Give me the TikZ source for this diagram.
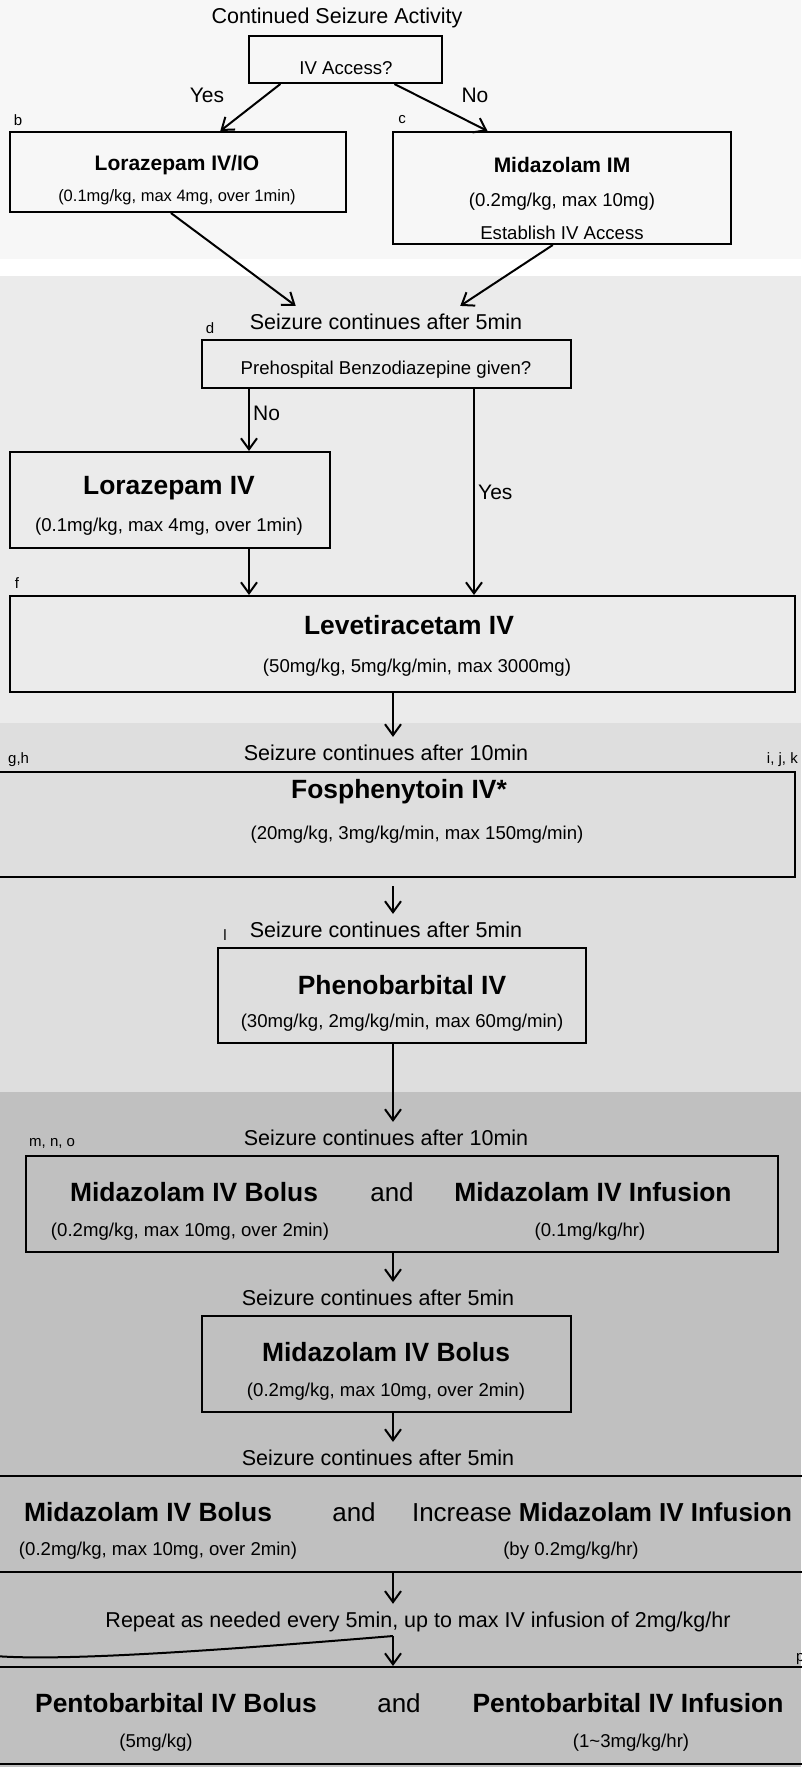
\documentclass[tikz,border=0pt]{standalone}
\usepackage{fontspec}
\setmainfont{Liberation Sans}
\usetikzlibrary{arrows.meta,calc}
\definecolor{bandA}{HTML}{F7F7F7}
\definecolor{bandB}{HTML}{EBEBEB}
\definecolor{bandC}{HTML}{DEDEDE}
\definecolor{bandD}{HTML}{C0C0C0}
\begin{document}
\begin{tikzpicture}[x=1pt,y=-1pt,
  box/.style={draw, line width=2pt, inner sep=0pt},
  arr/.style={line width=2pt, -{Straight Barb[length=11pt,width=16pt]}},
  ttl/.style={font=\fontsize{26.4}{30}\selectfont\bfseries, inner sep=0pt},
  ttls/.style={font=\fontsize{21}{25}\selectfont\bfseries, inner sep=0pt},
  andtxt/.style={font=\fontsize{26}{30}\selectfont, inner sep=0pt},
  mid/.style={font=\fontsize{21.5}{25}\selectfont, inner sep=8pt},
  lbl/.style={font=\fontsize{21}{25}\selectfont, inner sep=0pt},
  det/.style={font=\fontsize{18.6}{22}\selectfont, inner sep=0pt},
  dets/.style={font=\fontsize{16.5}{20}\selectfont, inner sep=0pt},
  fn/.style={font=\fontsize{15}{18}\selectfont, inner sep=0pt},
]
\useasboundingbox (0,0) rectangle (801,1767);
% background bands
\fill[bandA] (0,0) rectangle (801,259);
\fill[white] (0,259) rectangle (801,276);
\fill[bandB] (0,276) rectangle (801,723);
\fill[bandC] (0,723) rectangle (801,1092);
\fill[bandD] (0,1092) rectangle (801,1767);

\coordinate (spine) at (393,0);

% ---------- top section
\node[mid] (t0) at (337,18) {Continued Seizure Activity};
\node[box, minimum width=193pt, minimum height=47pt] (iva) at (345.5,59.5) {};
\node[det] (ivat) at (346,68) {IV Access?};
\node[lbl] (yes1) at (207,95) {Yes};
\node[lbl] (no1) at (475,95) {No};
\node[fn] (fb) at (18,120) {b};
\node[fn] (fc) at (402,120) {c};

\node[box, minimum width=336pt, minimum height=80pt] (lorio) at (178,172) {};
\node[ttls] (lorioa) at (177,165) {Lorazepam IV/IO};
\node[dets] (loriob) at (177,197) {(0.1mg/kg, max 4mg, over 1min)};

\node[box, minimum width=338pt, minimum height=112pt] (midim) at (562,188) {};
\node[ttls] (midima) at (562,165) {Midazolam IM};
\node[det] (midimb) at (562,202) {(0.2mg/kg, max 10mg)};
\node[det] (midimc) at (562,233) {Establish IV Access};

\draw[arr] ($(iva.south west)!0.166!(iva.south east)$) -- ($(lorio.north west)!0.625!(lorio.north east)$);
\draw[arr] ($(iva.south west)!0.751!(iva.south east)$) -- ($(midim.north west)!0.281!(midim.north east)$);

% ---------- second section
\node[mid] (t5a) at (386,322) {Seizure continues after 5min};
\node[fn] (fd) at (210,328) {d};
\node[box, minimum width=369pt, minimum height=48pt] (pre) at (386.5,364) {};
\node[det] (pret) at (386,370) {Prehospital Benzodiazepine given?};

\draw[arr] ($(lorio.south west)!0.479!(lorio.south east)$) -- ($(t5a.north west)!0.1875!(t5a.north east)$);
\draw[arr] ($(midim.south west)!0.473!(midim.south east)$) -- ($(t5a.north west)!0.757!(t5a.north east)$);

\node[box, minimum width=320pt, minimum height=96pt] (lor) at (170,500) {};
\node[ttl] (lora) at (169,488) {Lorazepam IV};
\node[det] (lorb) at (169,527) {(0.1mg/kg, max 4mg, over 1min)};

\node[fn] (ff) at (17,583) {f};
\node[box, minimum width=785pt, minimum height=96pt] (lev) at (402.5,644) {};
\node[ttl] (leva) at (409,625) {Levetiracetam IV};
\node[det] (levb) at (417,668) {(50mg/kg, 5mg/kg/min, max 3000mg)};

\coordinate (noX) at (249,0);
\coordinate (yesX) at (474,0);
\draw[arr] (pre.south -| noX) -- (lor.north -| noX);
\node[lbl, anchor=west] (no2) at (253,413) {No};
\draw[arr] (pre.south -| yesX) -- (lev.north -| yesX);
\node[lbl, anchor=west] (yes2) at (478,492) {Yes};
\draw[arr] (lor.south -| noX) -- (lev.north -| noX);

% ---------- third section
\node[mid] (t10a) at (386,753) {Seizure continues after 10min};
\node[fn, anchor=west] (fgh) at (8,760) {g,h};
\node[fn, anchor=east] (fijk) at (798,760) {i, j, k};
\draw[arr] (lev.south -| spine) -- (t10a.north -| spine);

\node[box, minimum width=805pt, minimum height=105pt] (fos) at (392.5,824.5) {};
\node[ttl] (fosa) at (399,792) {Fosphenytoin IV*};
\node[det] (fosb) at (417,835) {(20mg/kg, 3mg/kg/min, max 150mg/min)};

\node[mid] (t5b) at (386,930) {Seizure continues after 5min};
\node[fn] (fl) at (225,935) {l};
\coordinate (fosgap) at ([yshift=-8pt]fos.south);
\draw[arr] (fosgap -| spine) -- (t5b.north -| spine);

\node[box, minimum width=368pt, minimum height=95pt] (phe) at (402,995.5) {};
\node[ttl] (phea) at (402,985) {Phenobarbital IV};
\node[det] (pheb) at (402,1023) {(30mg/kg, 2mg/kg/min, max 60mg/min)};

% ---------- fourth section
\node[mid] (t10b) at (386,1138) {Seizure continues after 10min};
\node[fn, anchor=west] (fmno) at (29,1143) {m, n, o};
\draw[arr] (phe.south -| spine) -- (t10b.north -| spine);

\node[box, minimum width=752pt, minimum height=96pt] (mid1) at (402,1204) {};
\node[ttl] (mid1a) at (194,1192) {Midazolam IV Bolus};
\node[andtxt] (mid1and) at (392,1192) {and};
\node[ttl] (mid1c) at (593,1192) {Midazolam IV Infusion};
\node[det] (mid1d) at (190,1232) {(0.2mg/kg, max 10mg, over 2min)};
\node[det] (mid1e) at (590,1232) {(0.1mg/kg/hr)};

\node[mid] (t5c) at (378,1298) {Seizure continues after 5min};
\draw[arr] (mid1.south -| spine) -- (t5c.north -| spine);

\node[box, minimum width=369pt, minimum height=96pt] (mid2) at (386.5,1364) {};
\node[ttl] (mid2a) at (386,1352) {Midazolam IV Bolus};
\node[det] (mid2b) at (386,1392) {(0.2mg/kg, max 10mg, over 2min)};

\node[mid] (t5d) at (378,1458) {Seizure continues after 5min};
\draw[arr] (mid2.south -| spine) -- (t5d.north -| spine);

\node[box, minimum width=821pt, minimum height=96pt] (mid3) at (400.5,1524) {};
\node[ttl] (mid3a) at (148,1512) {Midazolam IV Bolus};
\node[andtxt] (mid3and) at (354,1512) {and};
\node[andtxt] (mid3c) at (602,1512) {Increase \textbf{Midazolam IV Infusion}};
\node[det] (mid3d) at (158,1551) {(0.2mg/kg, max 10mg, over 2min)};
\node[det] (mid3e) at (571,1551) {(by 0.2mg/kg/hr)};

\node[mid] (rep) at (418,1622) {Repeat as needed every 5min, up to max IV infusion of 2mg/kg/hr};
\draw[arr] (mid3.south -| spine) -- (rep.north -| spine);

\node[fn, anchor=west] (fp) at (796,1659) {p};

\node[box, minimum width=821pt, minimum height=97pt] (pent) at (400.5,1715.5) {};
\node[ttl] (penta) at (176,1703) {Pentobarbital IV Bolus};
\node[andtxt] (pentand) at (399,1703) {and};
\node[ttl] (pentc) at (628,1703) {Pentobarbital IV Infusion};
\node[det] (pentd) at (156,1743) {(5mg/kg)};
\node[det] (pente) at (631,1743) {(1\textasciitilde3mg/kg/hr)};

\coordinate (jn) at (393,1636);
\coordinate (loopL) at (-5,1656);
\draw[line width=2pt] (loopL) .. controls (60,1661) and (200,1652) .. (jn);
\draw[arr] (jn) -- (pent.north -| jn);
\end{tikzpicture}
\end{document}
